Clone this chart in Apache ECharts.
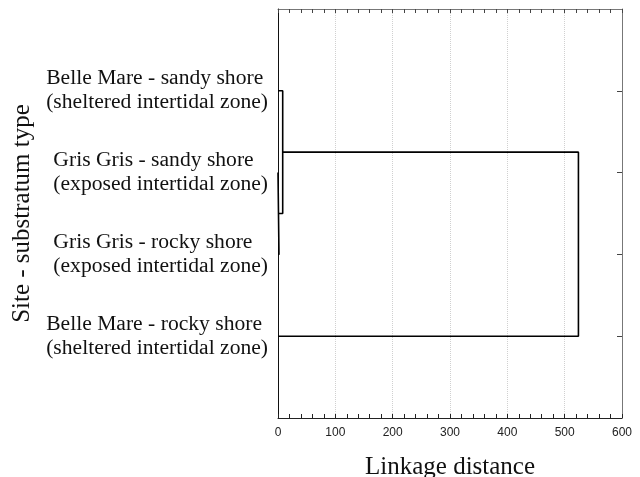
<!DOCTYPE html>
<html lang="en">

<head>
  <meta charset="UTF-8">
  <title>Dendrogram</title>
  <script src="https://cdnjs.cloudflare.com/ajax/libs/echarts/6.0.0/echarts.min.js"></script>
</head>

<body style="margin:0">
  <div id="main" style="width: 640px;height:477px;"></div>
  <script type="text/javascript">
    // leaves, top to bottom
    var leafSite = ['Belle Mare - sandy shore', 'Gris Gris - sandy shore', 'Gris Gris - rocky shore', 'Belle Mare - rocky shore'];
    var leafZone = ['(sheltered intertidal zone)', '(exposed intertidal zone)', '(exposed intertidal zone)', '(sheltered intertidal zone)'];
    // merges: node ids 0..3 are leaves, 4.. are merged clusters
    var mergeLeft = [1, 0, 5];
    var mergeRight = [2, 4, 3];
    var mergeDist = [1.7, 8.2, 524];
    var xTicks = [0, 100, 200, 300, 400, 500, 600];

    // node position on the category scale (1..n) and its height
    var nodeY = [], nodeH = [];
    leafSite.forEach(function (s, i) { nodeY.push(i + 1); nodeH.push(0); });
    var segs = [];
    mergeDist.forEach(function (d, k) {
      var a = mergeLeft[k], b = mergeRight[k];
      segs.push([nodeH[a], nodeY[a]], [d, nodeY[a]], [d, nodeY[b]], [nodeH[b], nodeY[b]], '-');
      nodeY.push((nodeY[a] + nodeY[b]) / 2);
      nodeH.push(d);
    });
    var leafPos = leafSite.map(function (s, i) { return i + 1; });

    var myChart = echarts.init(document.getElementById('main'));
    var serif = 'Liberation Serif';
    var sans = 'Liberation Sans';
    var option = {
      animation: false,
      grid: { left: 278, right: 18, top: 9, bottom: 59, containLabel: false, outerBoundsMode: 'none' },
      xAxis: [{
        type: 'value', min: 0, max: 600, interval: 100, position: 'bottom',
        name: 'Linkage distance', nameLocation: 'middle', nameGap: 37,
        nameTextStyle: { fontFamily: serif, fontSize: 25, color: '#111' },
        axisLine: { onZero: false, lineStyle: { color: '#222', width: 1 } },
        axisTick: { inside: true, length: 4, lineStyle: { color: '#222' } },
        minorTick: { show: true, splitNumber: 5, length: 4, lineStyle: { color: '#222' } },
        axisLabel: {
          fontFamily: sans, fontSize: 12, color: '#222', margin: 9,
          customValues: xTicks
        },
        splitLine: { show: true, lineStyle: { color: '#d0d0d0', type: 'dotted' } }
      }, {
        type: 'value', min: 0, max: 600, interval: 100, position: 'top',
        axisLine: { onZero: false, lineStyle: { color: '#777' } },
        axisTick: { inside: true, length: 4, lineStyle: { color: '#444' } },
        minorTick: { show: true, splitNumber: 5, length: 4, lineStyle: { color: '#444' } },
        axisLabel: { show: false },
        splitLine: { show: false }
      }],
      yAxis: [{
        type: 'value', min: 0, max: leafSite.length + 1, interval: 1, inverse: true,
        name: 'Site - substratum type', nameLocation: 'middle', nameGap: 239,
        nameTextStyle: { fontFamily: serif, fontSize: 25, color: '#111' },
        axisLine: { show: true, onZero: false, lineStyle: { color: '#111' } },
        axisTick: { show: false },
        splitLine: { show: false },
        axisLabel: {
          margin: 10,
          customValues: leafPos,
          formatter: function (v) {
            var i = v - 1;
            return '{t|' + leafSite[i] + '}\n{t|' + leafZone[i] + '}';
          },
          rich: { t: { fontFamily: serif, fontSize: 21.6, color: '#111', align: 'left', lineHeight: 24 } }
        }
      }, {
        type: 'value', min: 0, max: leafSite.length + 1, interval: 1, inverse: true, position: 'right',
        axisLine: { show: true, onZero: false, lineStyle: { color: '#777' } },
        axisTick: { show: true, inside: true, length: 5, lineStyle: { color: '#444' }, customValues: leafPos },
        axisLabel: { show: false },
        splitLine: { show: false }
      }],
      series: [{
        type: 'line',
        data: segs,
        symbol: 'none',
        connectNulls: false,
        lineStyle: { color: '#000', width: 1.6 }
      }]
    };
    myChart.setOption(option);
  </script>
</body>

</html>
